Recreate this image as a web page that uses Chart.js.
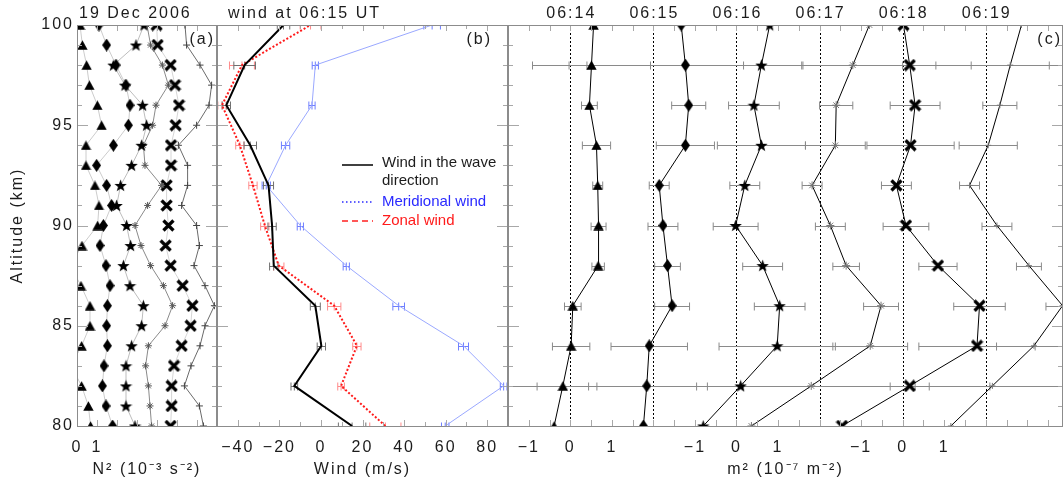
<!DOCTYPE html>
<html><head><meta charset="utf-8">
<script src="https://cdn.jsdelivr.net/npm/chart.js@4.4.0/dist/chart.umd.min.js"></script>
<style>
html,body{margin:0;padding:0;background:#fff;overflow:hidden;width:1063px;height:483px;position:relative;}
canvas{position:absolute;top:0;}
</style></head><body>
<canvas id="ca" width="219" height="483" style="left:0px"></canvas>
<canvas id="cb" width="295" height="483" style="left:215px"></canvas>
<canvas id="cc" width="559" height="483" style="left:506px"></canvas>
<script>
// ================= DATA =================
// Panel (a): N^2 profiles, 1 km resolution, 80..100 km (plotted positions)
const altA = [80,81,82,83,84,85,86,87,88,89,90,91,92,93,94,95,96,97,98,99,100];
const n2Tri  = [0.68,0.57,0.23,-0.3,0.23,0.65,0.65,0.2,-0.35,0.25,1.03,1.1,0.9,0.45,0.45,1.23,1.02,0.62,0.48,0.27,0.15];
const n2Dia  = [1.78,1.45,1.27,1.35,1.52,1.48,1.52,1.65,1.45,1.15,1.32,1.73,1.48,0.98,1.82,2.57,2.65,2.45,1.95,1.48,1.1];
const n2Star = [2.9,2.45,2.45,2.45,2.73,3.23,3.32,2.65,2.32,2.68,2.48,1.98,2.18,2.73,3.23,3.48,3.28,2.4,1.82,2.95,3.35];
const n2Ast  = [3.73,3.65,3.57,3.43,3.57,4.4,4.78,4.32,3.68,3.2,2.9,3.53,4.23,3.4,3.32,3.78,3.95,4.57,4.27,3.68,3.5];
const n2X    = [4.68,4.73,4.73,4.85,5.23,5.68,5.77,5.28,4.68,4.43,4.57,4.48,4.48,4.7,4.7,4.93,5.1,4.9,4.68,4.03,3.98];
const n2Plus = [6.32,6.12,5.37,5.7,6.15,6.4,6.87,6.4,5.85,6.12,5.98,5.23,5.53,5.53,5.07,5.98,6.6,6.73,6.15,5.48,5.4];
const aTickVals = [0,1];
const aTickLabels = ['0','1'];

// Panel (b): winds at 06:15 UT, 2 km resolution
const altB = [80,82,84,86,88,90,92,94,96,98,100];
const windWave     = [15,-12.8,0.2,-2.7,-22.7,-23.5,-25.2,-34,-45.5,-36.7,-18];
const windWaveErr  = [6.6,1.6,2,2.4,2,2,2.4,3,2,5.2,3];
const windZonal    = [31,9.7,17.3,6.4,-20.3,-27,-32.7,-39,-47.6,-38,-5];
const windZonalErr = [7.5,1.6,2,3.2,2.5,2,2,2,2,6,5];
const windMerid    = [59.8,87.9,68.6,37.4,12.2,-9.9,-26.3,-17,-4.3,-2.7,53.5];
const windMeridErr = [1.8,1.6,2.4,2.8,1.5,1.5,2,2,1.5,1.5,4];
const bTickVals   = [-40,-20,0,20,40,60,80];
const bTickLabels = ['\u221240','\u221220','0','20','40','60','80'];

// Panel (c): m^2 profiles (10^-7 m^-2) per time, each shifted by its offset
const times   = ['06:14','06:15','06:16','06:17','06:18','06:19'];
const offsets = [0,2,4,6,8,10];
const m2t14 = [-0.39,-0.18,0.02,0.06,0.67,0.68,0.66,0.63,0.46,0.51,0.56];
const e2t14 = [0,0.62,0.45,0.2,0.15,0.18,0.12,0.34,0.19,1.42,0];
const m2t15 = [-0.24,-0.16,-0.1,0.45,0.34,0.23,0.14,0.77,0.85,0.77,0.67];
const e2t15 = [0,1.2,0.92,0.42,0.31,0.36,0.24,0.7,0.41,2.8,0];
const m2t16 = [-0.8,0.1,0.98,1.04,0.63,-0.02,0.2,0.6,0.42,0.6,0.8];
const e2t16 = [0,6,1.4,0.61,0.48,0.54,0.36,1.06,0.61,4.2,0];
const m2t17 = [-1.64,-0.2,1.22,1.48,0.64,0.26,-0.18,0.38,0.4,0.8,1.2];
const e2t17 = [0,2.5,0.9,0.42,0.32,0.36,0.24,0.72,0.4,1.2,0];
const m2t18 = [-1.46,0.17,1.79,1.85,0.85,0.08,-0.15,0.19,0.3,0.17,0.02];
const e2t18 = [0,0.47,1.4,0.62,0.46,0.55,0.36,1.05,0.6,4,0];
const m2t19 = [-0.84,0.16,1.16,1.85,1.04,0.27,-0.39,0.06,0.34,0.59,0.86];
const e2t19 = [0,6,0.9,0.4,0.3,0.36,0.24,0.7,0.41,0.94,0];
const cTickVals   = [-1,0,1,3,4,5,7,8,9];
const cTickLabels = ['\u22121','0','1','\u22121','0','1','\u22121','0','1'];

const yTickVals = [80,85,90,95,100];

// ================= STYLE / HELPERS =================
const FONT = "'Liberation Sans', Arial, Helvetica, sans-serif";
const TXT = '#1c1c1c';
const range = (a,b,s)=>{const r=[];for(let v=a;v<=b+1e-9;v+=s)r.push(+v.toFixed(4));return r;};

function marker(w,h,draw){const c=document.createElement('canvas');c.width=w;c.height=h;const g=c.getContext('2d');draw(g,w,h);return c;}
const mTri = marker(11,10,(g,w,h)=>{g.fillStyle='#000';g.beginPath();g.moveTo(w/2,0.3);g.lineTo(w-0.3,h-0.3);g.lineTo(0.3,h-0.3);g.closePath();g.fill();});
const mDia = marker(9,13,(g,w,h)=>{g.fillStyle='#000';g.beginPath();g.moveTo(w/2,0);g.lineTo(w,h/2);g.lineTo(w/2,h);g.lineTo(0,h/2);g.closePath();g.fill();});
const mStar = marker(13,13,(g,w,h)=>{g.fillStyle='#000';g.beginPath();const R=6.5,r=2.7,cx=w/2,cy=h/2+0.6;for(let i=0;i<10;i++){const a=-Math.PI/2+i*Math.PI/5;const rr=i%2?r:R;g.lineTo(cx+rr*Math.cos(a),cy+rr*Math.sin(a));}g.closePath();g.fill();});
const mX = marker(13,13,(g,w,h)=>{g.strokeStyle='#000';g.lineWidth=3.2;g.beginPath();g.moveTo(1.5,1.5);g.lineTo(w-1.5,h-1.5);g.moveTo(w-1.5,1.5);g.lineTo(1.5,h-1.5);g.stroke();});

function ds(xs, ys, o){
  return Object.assign({data: ys.map((y,i)=>({x:xs[i], y})), showLine:true, borderWidth:1,
    pointRadius:6, pointHoverRadius:6, clip:0, fill:false, tension:0}, o);
}

// inward ticks + frame + extra lines + error bars
const framePlugin = {
  id:'frame',
  beforeDatasetsDraw(chart, args, o){
    const {ctx, chartArea:a, scales:{x,y}} = chart;
    ctx.save();
    ctx.beginPath(); ctx.rect(a.left, a.top, a.right-a.left, a.bottom-a.top); ctx.clip();
    (o.vlines||[]).forEach(v=>{
      const px = Math.round(x.getPixelForValue(v.x))+0.5;
      ctx.strokeStyle=v.color; ctx.lineWidth=1; ctx.setLineDash(v.dash||[]);
      ctx.beginPath(); ctx.moveTo(px,a.top); ctx.lineTo(px,a.bottom); ctx.stroke();
    });
    ctx.setLineDash([]);
    (o.errors||[]).forEach(eb=>{
      ctx.strokeStyle=eb.color; ctx.lineWidth=1;
      eb.xs.forEach((xv,i)=>{
        const e=eb.es[i]; if(!e) return;
        const py=Math.round(y.getPixelForValue(eb.ys[i]))+0.5;
        const x1=x.getPixelForValue(xv-e), x2=x.getPixelForValue(xv+e), xc=x.getPixelForValue(xv);
        ctx.beginPath(); ctx.moveTo(x1,py); ctx.lineTo(x2,py);
        ctx.moveTo(x1,py-eb.cap); ctx.lineTo(x1,py+eb.cap);
        ctx.moveTo(x2,py-eb.cap); ctx.lineTo(x2,py+eb.cap);
        if(eb.center){ctx.moveTo(xc,py-eb.cap); ctx.lineTo(xc,py+eb.cap);}
        ctx.stroke();
      });
    });
    ctx.restore();
  },
  afterDraw(chart, args, o){
    const {ctx, chartArea:a, scales:{x,y}} = chart;
    ctx.save();
    ctx.strokeStyle=o.tickColor||'#a8a8a8'; ctx.lineWidth=1;
    ctx.beginPath();
    const xt=(vals,len)=>vals.forEach(v=>{const p=Math.round(x.getPixelForValue(v))+0.5;
      ctx.moveTo(p,a.bottom); ctx.lineTo(p,a.bottom-len); ctx.moveTo(p,a.top); ctx.lineTo(p,a.top+len);});
    const yt=(vals,len)=>vals.forEach(v=>{const p=Math.round(y.getPixelForValue(v))+0.5;
      ctx.moveTo(a.left,p); ctx.lineTo(a.left+len,p); ctx.moveTo(a.right,p); ctx.lineTo(a.right-len,p);});
    xt(o.xMinor||[],4); xt(o.xMajor||[],6);
    yt(range(80,100,1),5); yt(yTickVals,11);
    ctx.stroke();
    ctx.strokeStyle=o.frameColor||'#8c8c8c';
    ctx.strokeRect(Math.round(a.left)+0.5, Math.round(a.top)+0.5, Math.round(a.right-a.left)-1, Math.round(a.bottom-a.top));
    ctx.restore();
  }
};

const textPlugin = {
  id:'texts',
  beforeLayout(chart){ chart.ctx.letterSpacing='2px'; },
  beforeDraw(chart){ chart.ctx.letterSpacing='2px'; },
  afterDraw(chart, args, o){
    const ctx=chart.ctx; ctx.save();
    (o.lines||[]).forEach(l=>{
      ctx.strokeStyle=l.color; ctx.lineWidth=l.width; ctx.setLineDash(l.dash||[]);
      ctx.beginPath(); ctx.moveTo(l.x1,l.y); ctx.lineTo(l.x2,l.y); ctx.stroke();
    });
    ctx.setLineDash([]);
    (o.items||[]).forEach(t=>{
      const x = typeof t.x==='function'? t.x(chart): t.x;
      ctx.font=`${t.size||16}px ${FONT}`; ctx.fillStyle=t.color||TXT;
      ctx.textAlign=t.align||'left'; ctx.textBaseline='middle';
      ctx.letterSpacing=(t.ls===undefined?2:t.ls)+'px';
      ctx.fillText(t.text, x, t.y);
    });
    ctx.restore();
  }
};

function xScale(min,max,vals,labels,title){
  return {type:'linear', min, max, position:'bottom',
    afterFit(s){s.height=57; s.paddingLeft=0; s.paddingRight=0; s.paddingTop=0; s.paddingBottom=0;},
    afterBuildTicks(s){s.ticks=vals.map(v=>({value:v}));},
    grid:{display:false, drawTicks:false}, border:{display:false},
    ticks:{padding:12, color:TXT, font:{family:FONT,size:16}, maxRotation:0, autoSkip:false,
      callback:(v)=>{const i=vals.indexOf(v); return i<0?'':labels[i];}},
    title:{display:true, text:title, color:TXT, font:{family:FONT,size:16}, padding:{top:0,bottom:4}}
  };
}
function yScale(show){
  const s={type:'linear', min:80, max:100, position:'left', display:show,
    afterBuildTicks(sc){sc.ticks=yTickVals.map(v=>({value:v}));},
    grid:{display:false, drawTicks:false}, border:{display:false},
    ticks:{padding:3, color:TXT, font:{family:FONT,size:16}},
    title:{display:show, text:'Altitude (km)', color:TXT, font:{family:FONT,size:16}, padding:{top:8,bottom:0}}
  };
  s.afterFit=(sc)=>{ if(show) sc.width=77; sc.paddingTop=0; sc.paddingBottom=0; sc.paddingLeft=0; sc.paddingRight=0; };
  return s;
}
function baseOpts(pad){
  return {responsive:false, animation:false, events:[],
    layout:{padding:pad, autoPadding:false},
    plugins:{legend:{display:false}, tooltip:{enabled:false}}};
}

// ================= PANEL A =================
const optA = baseOpts({top:25,left:0,right:2,bottom:0});
optA.scales = {x:xScale(0,7,aTickVals,aTickLabels,'N\u00B2 (10\u207B\u00B3 s\u207B\u00B2)'), y:yScale(true)};
optA.plugins.frame = {xMajor:range(0,7,1), xMinor:[]};
optA.plugins.texts = {items:[
  {text:'19 Dec 2006', x:79, y:14},
  {text:'(a)', x:215, y:40, align:'right'}
]};
new Chart(document.getElementById('ca'), {type:'scatter', data:{datasets:[
  ds(n2Tri, altA, {borderColor:'#cccccc', pointStyle:mTri}),
  ds(n2Dia, altA, {borderColor:'#cccccc', pointStyle:mDia}),
  ds(n2Star, altA, {borderColor:'#bdbdbd', pointStyle:mStar}),
  ds(n2Ast, altA, {borderColor:'#8a8a8a', pointStyle:'star', pointRadius:3.5, pointBorderColor:'#555', pointBackgroundColor:'#555', pointBorderWidth:1}),
  ds(n2X, altA, {borderColor:'#d6d6d6', pointStyle:mX}),
  ds(n2Plus, altA, {borderColor:'#6a6a6a', pointStyle:'cross', pointRadius:3.5, pointBorderColor:'#444', pointBorderWidth:1})
]}, options:optA, plugins:[framePlugin, textPlugin]});

// ================= PANEL B =================
const optB = baseOpts({top:25,left:2,right:2,bottom:0});
optB.scales = {x:xScale(-50,90,bTickVals,bTickLabels,'Wind (m/s)'), y:yScale(false)};
optB.plugins.frame = {xMajor:bTickVals, xMinor:range(-50,90,10), errors:[
  {xs:windMerid, ys:altB, es:windMeridErr, color:'#6f7fff', cap:4, center:true},
  {xs:windZonal, ys:altB, es:windZonalErr, color:'#ff8a8a', cap:4, center:true},
  {xs:windWave, ys:altB, es:windWaveErr, color:'#707070', cap:4, center:true}
]};
optB.plugins.texts = {
  lines:[
    {x1:127,x2:158,y:165,color:'#000',width:1.5},
    {x1:127,x2:158,y:202,color:'#2a2aff',width:1.5,dash:[1.5,2.5]},
    {x1:127,x2:158,y:221,color:'#ff2020',width:1.5,dash:[6,4]}
  ],
  items:[
  {text:'wind at 06:15 UT', x:13, y:14},
  {text:'(b)', x:277, y:40, align:'right'},
  {text:'Wind in the wave', x:167, y:163, size:15, ls:0},
  {text:'direction', x:167, y:181, size:15, ls:0},
  {text:'Meridional wind', x:167, y:202, size:15, ls:0, color:'#2a2aff'},
  {text:'Zonal wind', x:167, y:221, size:15, ls:0, color:'#ff1a1a'}
]};
new Chart(document.getElementById('cb'), {type:'scatter', data:{datasets:[
  ds(windWave, altB, {borderColor:'#000', borderWidth:2, pointRadius:0.2, pointStyle:false}),
  ds(windZonal, altB, {borderColor:'#ff1a1a', borderWidth:2, borderDash:[2,2], pointRadius:0.2, pointStyle:false}),
  ds(windMerid, altB, {borderColor:'#9aa8ff', borderWidth:1, pointRadius:0.2, pointStyle:false})
]}, options:optB, plugins:[framePlugin, textPlugin]});

// ================= PANEL C =================
const optC = baseOpts({top:25,left:2,right:2,bottom:0});
optC.scales = {x:xScale(-1.5,11.86,cTickVals,cTickLabels,'m\u00B2 (10\u207B\u2077 m\u207B\u00B2)'), y:yScale(false)};
const m2all = [m2t14,m2t15,m2t16,m2t17,m2t18,m2t19];
const e2all = [e2t14,e2t15,e2t16,e2t17,e2t18,e2t19];
const shifted = m2all.map((arr,k)=>arr.map(v=>v+offsets[k]));
optC.plugins.frame = {xMajor:range(-1.5,11.5,0.5), xMinor:[],
  vlines: offsets.map(o=>({x:o, color:'#000', dash:[2,2]})),
  errors: shifted.map((xs,k)=>({xs, ys:altB, es:e2all[k], color:'#8a8a8a', cap:4}))
};
optC.plugins.texts = {items:[
  ...times.map((t,k)=>({text:t, x:(ch)=>ch.scales.x.getPixelForValue(offsets[k])+1, y:14, align:'center'})),
  {text:'(c)', x:556, y:40, align:'right'}
]};
const cStyles = [
  {pointStyle:mTri}, {pointStyle:mDia}, {pointStyle:mStar},
  {pointStyle:'star', pointRadius:4, pointBorderColor:'#777', pointBorderWidth:1},
  {pointStyle:mX},
  {pointStyle:'cross', pointRadius:3, pointBorderColor:'#777', pointBorderWidth:1}
];
new Chart(document.getElementById('cc'), {type:'scatter', data:{datasets:
  shifted.map((xs,k)=>ds(xs, altB, Object.assign({borderColor:'#000', borderWidth:1}, cStyles[k])))
}, options:optC, plugins:[framePlugin, textPlugin]});
</script>
</body></html>
